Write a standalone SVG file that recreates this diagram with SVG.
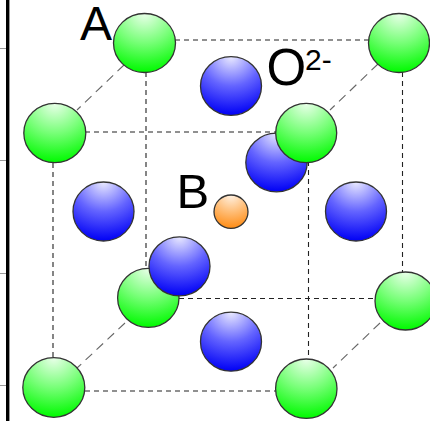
<svg xmlns="http://www.w3.org/2000/svg" width="430" height="421" viewBox="0 0 430 421">
<style>
.d{stroke:#222;stroke-width:1.1;stroke-dasharray:5 4;fill:none}
.g{stroke:#666;stroke-width:1.1;stroke-dasharray:9 6;fill:none}
.s{stroke:#333;stroke-width:1.3}
.t{font-family:"Liberation Sans",Arial,sans-serif;fill:#000}
.tick{stroke:#999;stroke-width:1}
</style>
<defs>
<radialGradient id="gr" cx="0.5" cy="0" r="1"><stop offset="0" stop-color="#eaffea"/><stop offset="0.5" stop-color="#78ff78"/><stop offset="1" stop-color="#00fa00"/></radialGradient>
<radialGradient id="bl" cx="0.5" cy="0" r="1"><stop offset="0" stop-color="#eaeaff"/><stop offset="0.5" stop-color="#6464ff"/><stop offset="1" stop-color="#0000f5"/></radialGradient>
<radialGradient id="or" cx="0.5" cy="0" r="1"><stop offset="0" stop-color="#fff2e4"/><stop offset="0.5" stop-color="#ffbe78"/><stop offset="1" stop-color="#ff8c14"/></radialGradient>
</defs>
<g id="axis">
<path class="tick" d="M0 48.500H7M0 160.500H7M0 273.500H7M0 385.500H7"/>
<rect x="6" y="0" width="3.400" height="421" fill="#000"/>
</g>
<g id="connectors">
<path class="d" d="M175 40H369M85 132H276M53 163V359M146 72V268M402.500 72V272M308.500 161V359M179 298.500H375M85 391H276"/>
<path class="g" d="M124 65L77 110M378 64L330 110M125 323L77 368M380 323L333 368"/>
</g>
<g id="atom-a-back-left"><ellipse class="s" cx="144.500" cy="43" rx="31" ry="29.500" fill="url(#gr)"/></g>
<g id="atom-a-back-right"><ellipse class="s" cx="399" cy="43" rx="30.500" ry="29.500" fill="url(#gr)"/></g>
<g id="atom-a-back-bottom-left"><ellipse class="s" cx="148.300" cy="297.800" rx="30.700" ry="29.500" fill="url(#gr)"/></g>
<g id="atom-a-back-bottom-right"><ellipse class="s" cx="405.500" cy="301" rx="30.500" ry="29" fill="url(#gr)"/></g>
<g id="atom-o-top"><ellipse class="s" cx="231" cy="86" rx="30.500" ry="29.300" fill="url(#bl)"/></g>
<g id="atom-o-back"><ellipse class="s" cx="276.500" cy="162.500" rx="30.700" ry="29.300" fill="url(#bl)"/></g>
<g id="atom-o-left"><ellipse class="s" cx="103.500" cy="211.500" rx="30.500" ry="29.500" fill="url(#bl)"/></g>
<g id="atom-o-right"><ellipse class="s" cx="356" cy="211.500" rx="30.500" ry="29.500" fill="url(#bl)"/></g>
<g id="atom-o-front"><ellipse class="s" cx="179.500" cy="266.300" rx="30.500" ry="29.500" fill="url(#bl)"/></g>
<g id="atom-o-bottom"><ellipse class="s" cx="231" cy="341.700" rx="30.500" ry="29.500" fill="url(#bl)"/></g>
<g id="atom-b"><ellipse class="s" cx="231" cy="211.700" rx="17" ry="16.700" fill="url(#or)"/></g>
<g id="atom-a-front-left"><ellipse class="s" cx="54.800" cy="133" rx="31" ry="29.700" fill="url(#gr)"/></g>
<g id="atom-a-front-right"><ellipse class="s" cx="306.200" cy="133" rx="30.500" ry="29.700" fill="url(#gr)"/></g>
<g id="atom-a-front-bottom-left"><ellipse class="s" cx="53.800" cy="387.500" rx="31" ry="29.800" fill="url(#gr)"/></g>
<g id="atom-a-front-bottom-right"><ellipse class="s" cx="306.300" cy="388.700" rx="30.700" ry="29.700" fill="url(#gr)"/></g>
<g id="labels">
<text class="t" x="80" y="40" font-size="48">A</text>
<text class="t" x="176.500" y="208" font-size="49">B</text>
<text class="t" x="266.500" y="85" font-size="51">O</text>
<text class="t" x="305" y="70" font-size="30">2-</text>
</g>
</svg>
